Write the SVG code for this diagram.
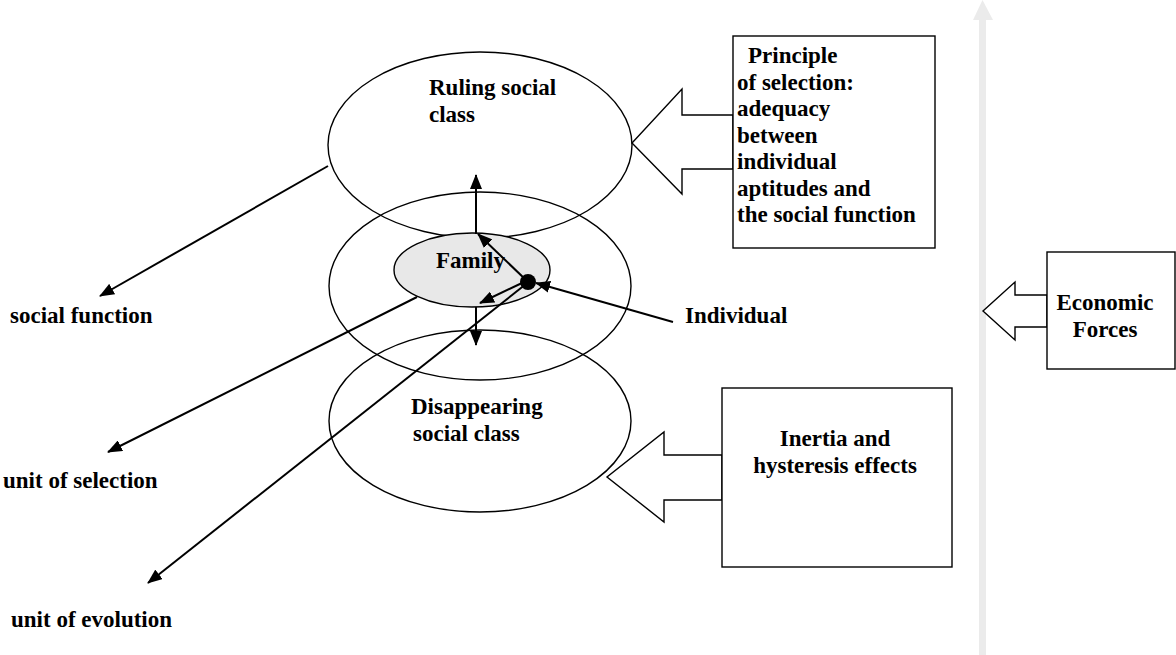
<svg xmlns="http://www.w3.org/2000/svg" width="1176" height="655" viewBox="0 0 1176 655">
<style>
  text { font-family: "Liberation Serif", "Times New Roman", serif; font-weight: bold; font-size: 23px; fill: #000; }
  .ell { fill: none; stroke: #000; stroke-width: 1.4; }
  .fam { fill: #e8e8e8; stroke: #000; stroke-width: 1.4; }
  .box { fill: #fff; stroke: #000; stroke-width: 1.4; }
  .con { stroke: #000; stroke-width: 2; fill: none; marker-end: url(#ah); }
</style>
<defs>
  <marker id="ah" markerUnits="userSpaceOnUse" markerWidth="15" markerHeight="12" refX="14" refY="6" orient="auto">
    <path d="M0,0 L15,6 L0,12 z" fill="#000"/>
  </marker>
</defs>
<rect width="1176" height="655" fill="#fff"/>

<g id="economic-axis">
  <rect x="979" y="18" width="7" height="637" fill="#ebebeb"/>
  <polygon points="973,20 982.5,0 993,20" fill="#ebebeb"/>
</g>

<g id="ruling-class">
  <ellipse class="ell" cx="480" cy="145" rx="152" ry="93"/>
  <text x="429" y="95">Ruling social</text>
  <text x="429" y="122">class</text>
</g>
<g id="middle-class">
  <ellipse class="ell" cx="480" cy="286" rx="151" ry="94"/>
</g>
<g id="disappearing-class">
  <ellipse class="ell" cx="480" cy="421" rx="151" ry="91"/>
  <text x="411" y="414">Disappearing</text>
  <text x="413" y="441">social class</text>
</g>
<g id="family">
  <ellipse class="fam" cx="472" cy="270" rx="78" ry="37"/>
  <text x="436" y="268">Family</text>
</g>

<g id="principle">
  <polygon class="box" points="733,115 682,115 682,89 632,143 682,194 682,169 733,169"/>
  <rect class="box" x="733" y="36" width="202" height="212"/>
  <text x="748" y="63">Principle</text>
  <text x="737" y="90">of selection:</text>
  <text x="737" y="116">adequacy</text>
  <text x="737" y="143">between</text>
  <text x="737" y="169">individual</text>
  <text x="737" y="196">aptitudes and</text>
  <text x="737" y="222">the social function</text>
</g>

<g id="inertia">
  <polygon class="box" points="722,455 664,455 664,432 607,477 664,522 664,500 722,500"/>
  <rect class="box" x="722" y="388" width="230" height="179"/>
  <text x="835" y="446" text-anchor="middle">Inertia and</text>
  <text x="835" y="473" text-anchor="middle">hysteresis effects</text>
</g>

<g id="economic-forces">
  <polygon class="box" points="1047,295 1015,295 1015,282 983,311 1015,340 1015,327 1047,327"/>
  <rect class="box" x="1047" y="252" width="128" height="117"/>
  <text x="1105" y="310" text-anchor="middle">Economic</text>
  <text x="1105" y="337" text-anchor="middle">Forces</text>
</g>

<g id="labels">
  <text x="10" y="323">social function</text>
  <text x="3" y="488">unit of selection</text>
  <text x="11" y="627">unit of evolution</text>
  <text x="685" y="323">Individual</text>
</g>

<g id="connectors">
  <line class="con" x1="476" y1="234" x2="476" y2="175"/>
  <line class="con" x1="476" y1="307" x2="476" y2="345"/>
  <line class="con" x1="526" y1="280" x2="478" y2="234"/>
  <line class="con" x1="522" y1="283" x2="480" y2="303"/>
  <line class="con" x1="673" y1="322" x2="536" y2="283"/>
  <line class="con" x1="328" y1="166" x2="100" y2="296"/>
  <line class="con" x1="417" y1="297" x2="108" y2="452"/>
  <line class="con" x1="526" y1="284" x2="148" y2="583"/>
  <circle cx="528" cy="282" r="8" fill="#000"/>
</g>
</svg>
